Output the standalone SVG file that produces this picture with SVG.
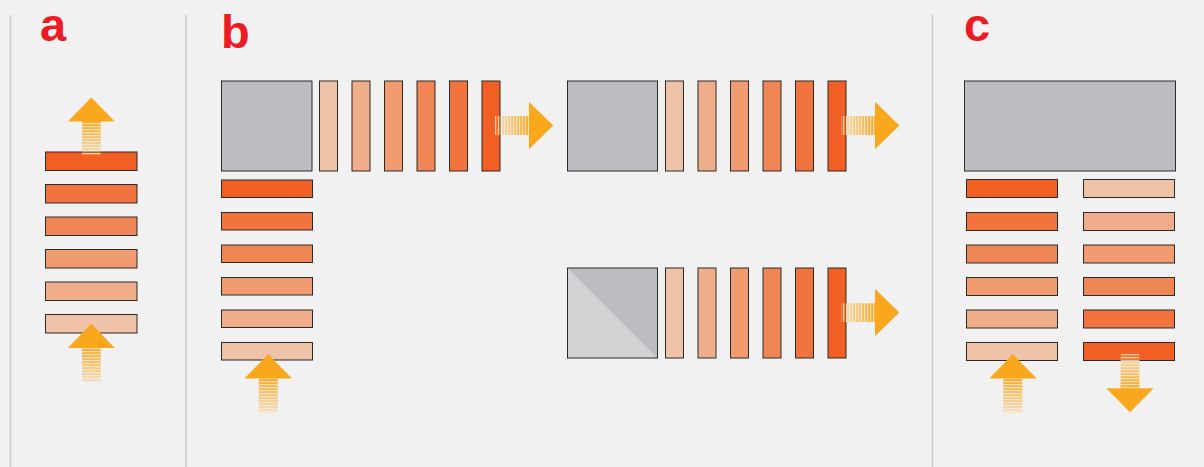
<svg xmlns="http://www.w3.org/2000/svg" width="1204" height="467" viewBox="0 0 1204 467">
<defs>
<style>
.lbl{font-family:"Liberation Sans",Arial,sans-serif;font-weight:bold;font-size:47px;fill:#ed1c24}
.div{stroke:#c9c9c9;stroke-width:1.5}
.bar{stroke:#2b2b2b;stroke-width:1}
.sq{fill:#bcbdc0;stroke:#2b2b2b;stroke-width:1}
.c1{fill:#f15f24}.c2{fill:#f1743f}.c3{fill:#ef8656}.c4{fill:#f09b70}.c5{fill:#efae89}.c6{fill:#eec3a7}
.head{fill:#f9a81e}
</style>
<linearGradient id="gUp" x1="0" y1="0" x2="0" y2="1"><stop offset="0" stop-color="#f9a81e" stop-opacity="1"/><stop offset="1" stop-color="#f9a81e" stop-opacity="0.25"/></linearGradient>
<linearGradient id="gDown" x1="0" y1="1" x2="0" y2="0"><stop offset="0" stop-color="#f9a81e" stop-opacity="1"/><stop offset="1" stop-color="#f9a81e" stop-opacity="0.25"/></linearGradient>
<linearGradient id="gRight" x1="1" y1="0" x2="0" y2="0"><stop offset="0" stop-color="#f9a81e" stop-opacity="1"/><stop offset="1" stop-color="#f9a81e" stop-opacity="0.2"/></linearGradient>
<pattern id="hStr" patternUnits="userSpaceOnUse" width="10" height="3"><rect x="0" y="0" width="10" height="1.2" fill="#f1f1f1" fill-opacity="0.7"/></pattern>
<pattern id="vStr" patternUnits="userSpaceOnUse" width="3" height="10"><rect x="0" y="0" width="1.2" height="10" fill="#f1f1f1" fill-opacity="0.7"/></pattern>
</defs>
<rect width="1204" height="467" fill="#f1f1f1"/>
<g id="dividers">
<line class="div" x1="10.5" y1="15" x2="10.5" y2="467"/>
<line class="div" x1="186" y1="15" x2="186" y2="467"/>
<line class="div" x1="932.5" y1="15" x2="932.5" y2="467"/>
</g>
<g id="labels">
<text class="lbl" x="40" y="41">a</text>
<text class="lbl" x="221" y="48">b</text>
<text class="lbl" x="964" y="41">c</text>
</g>
<g id="panel-a-stack">
<rect class="bar c1" x="45.5" y="152" width="91.5" height="18.5"/>
<rect class="bar c2" x="45.5" y="184.5" width="91.5" height="18.5"/>
<rect class="bar c3" x="45.5" y="217" width="91.5" height="18.5"/>
<rect class="bar c4" x="45.5" y="249.5" width="91.5" height="18.5"/>
<rect class="bar c5" x="45.5" y="282" width="91.5" height="18.5"/>
<rect class="bar c6" x="45.5" y="314.5" width="91.5" height="18.5"/>
</g>
<g id="panel-b-block">
<rect class="sq" x="221.5" y="81" width="90.5" height="90"/>
</g>
<g id="panel-b-row1">
<rect class="bar c6" x="319.5" y="81" width="18" height="90"/>
<rect class="bar c5" x="352" y="81" width="18" height="90"/>
<rect class="bar c4" x="384.5" y="81" width="18" height="90"/>
<rect class="bar c3" x="417" y="81" width="18" height="90"/>
<rect class="bar c2" x="449.5" y="81" width="18" height="90"/>
<rect class="bar c1" x="482" y="81" width="18" height="90"/>
</g>
<g id="panel-b-col">
<rect class="bar c1" x="221.5" y="180" width="91" height="17.5"/>
<rect class="bar c2" x="221.5" y="212.5" width="91" height="17.5"/>
<rect class="bar c3" x="221.5" y="245" width="91" height="17.5"/>
<rect class="bar c4" x="221.5" y="277.5" width="91" height="17.5"/>
<rect class="bar c5" x="221.5" y="310" width="91" height="17.5"/>
<rect class="bar c6" x="221.5" y="342.5" width="91" height="17.5"/>
</g>
<g id="panel-b-block2">
<rect class="sq" x="567.5" y="81" width="90" height="90"/>
</g>
<g id="panel-b-row2">
<rect class="bar c6" x="665.5" y="81" width="18" height="90"/>
<rect class="bar c5" x="698" y="81" width="18" height="90"/>
<rect class="bar c4" x="730.5" y="81" width="18" height="90"/>
<rect class="bar c3" x="763" y="81" width="18" height="90"/>
<rect class="bar c2" x="795.5" y="81" width="18" height="90"/>
<rect class="bar c1" x="828" y="81" width="18" height="90"/>
</g>
<g id="panel-b-block3">
<rect x="567.5" y="268" width="90" height="90" fill="#bcbdc0"/>
<polygon points="567.5,268 657.5,358 567.5,358" fill="#d1d2d4"/>
<rect x="567.5" y="268" width="90" height="90" fill="none" stroke="#2b2b2b" stroke-width="1"/>
</g>
<g id="panel-b-row3">
<rect class="bar c6" x="665.5" y="268" width="18" height="90"/>
<rect class="bar c5" x="698" y="268" width="18" height="90"/>
<rect class="bar c4" x="730.5" y="268" width="18" height="90"/>
<rect class="bar c3" x="763" y="268" width="18" height="90"/>
<rect class="bar c2" x="795.5" y="268" width="18" height="90"/>
<rect class="bar c1" x="828" y="268" width="18" height="90"/>
</g>
<g id="panel-c-block">
<rect class="sq" x="964.5" y="81" width="211" height="90"/>
</g>
<g id="panel-c-left">
<rect class="bar c1" x="966.5" y="179.5" width="91" height="18"/>
<rect class="bar c2" x="966.5" y="212.5" width="91" height="18"/>
<rect class="bar c3" x="966.5" y="245" width="91" height="18"/>
<rect class="bar c4" x="966.5" y="277.5" width="91" height="18"/>
<rect class="bar c5" x="966.5" y="310" width="91" height="18"/>
<rect class="bar c6" x="966.5" y="342.5" width="91" height="18"/>
</g>
<g id="panel-c-right">
<rect class="bar c6" x="1083.5" y="179.5" width="91" height="18"/>
<rect class="bar c5" x="1083.5" y="212.5" width="91" height="18"/>
<rect class="bar c4" x="1083.5" y="245" width="91" height="18"/>
<rect class="bar c3" x="1083.5" y="277.5" width="91" height="18"/>
<rect class="bar c2" x="1083.5" y="310" width="91" height="18"/>
<rect class="bar c1" x="1083.5" y="342.5" width="91" height="18"/>
</g>
<g id="connectors">
<!-- panel a top up arrow -->
<g>
<rect x="82" y="121" width="18.7" height="34.5" fill="url(#gUp)"/>
<rect x="82" y="121" width="18.7" height="34.5" fill="url(#hStr)"/>
<polygon class="head" points="67.8,121.5 91.3,97.5 114.8,121.5"/>
</g>
<!-- panel a bottom up arrow -->
<g>
<rect x="82" y="347.5" width="18.7" height="34.5" fill="url(#gUp)"/>
<rect x="82" y="347.5" width="18.7" height="34.5" fill="url(#hStr)"/>
<polygon class="head" points="67.8,348 91.3,323.7 114.8,348"/>
</g>
<!-- panel b up arrow -->
<g>
<rect x="258.7" y="378" width="19" height="34.7" fill="url(#gUp)"/>
<rect x="258.7" y="378" width="19" height="34.7" fill="url(#hStr)"/>
<polygon class="head" points="244.3,378.5 268.2,354.3 292,378.5"/>
</g>
<!-- panel b right arrow 1 -->
<g>
<rect x="495" y="116" width="34.5" height="19" fill="url(#gRight)"/>
<rect x="495" y="116" width="34.5" height="19" fill="url(#vStr)"/>
<polygon class="head" points="529,102 553.3,125.5 529,149.3"/>
</g>
<!-- panel b right arrow 2 -->
<g>
<rect x="841" y="116" width="34.5" height="19" fill="url(#gRight)"/>
<rect x="841" y="116" width="34.5" height="19" fill="url(#vStr)"/>
<polygon class="head" points="875,101.7 899.3,125.5 875,149.3"/>
</g>
<!-- panel b right arrow 3 -->
<g>
<rect x="841" y="303.3" width="34.5" height="18.7" fill="url(#gRight)"/>
<rect x="841" y="303.3" width="34.5" height="18.7" fill="url(#vStr)"/>
<polygon class="head" points="875,288.7 899.3,312.5 875,336.3"/>
</g>
<!-- panel c up arrow -->
<g>
<rect x="1003.3" y="378" width="19" height="34.7" fill="url(#gUp)"/>
<rect x="1003.3" y="378" width="19" height="34.7" fill="url(#hStr)"/>
<polygon class="head" points="989.3,378.5 1012.8,354.3 1036.7,378.5"/>
</g>
<!-- panel c down arrow -->
<g>
<rect x="1120.7" y="354" width="18.7" height="34.7" fill="url(#gDown)"/>
<rect x="1120.7" y="354" width="18.7" height="34.7" fill="url(#hStr)"/>
<polygon class="head" points="1106.3,388.3 1130,412.2 1153.7,388.3"/>
</g>
</g>
</svg>
